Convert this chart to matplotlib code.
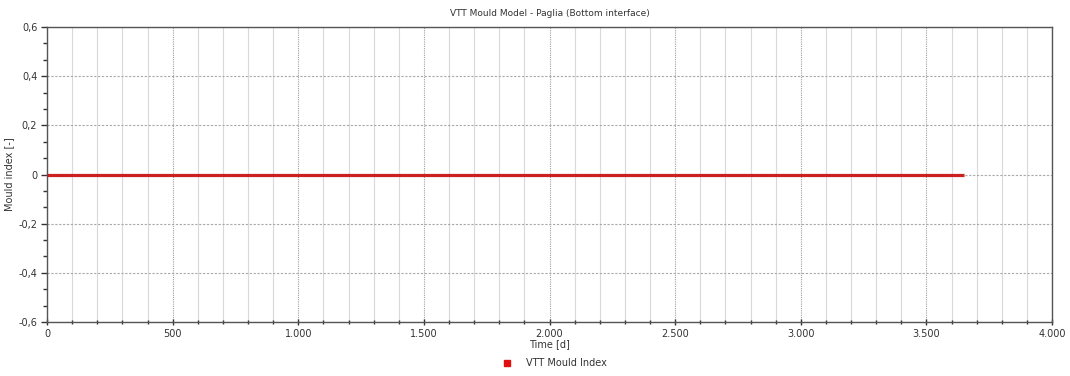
import matplotlib
matplotlib.use("Agg")
import matplotlib.pyplot as plt
from matplotlib.ticker import MultipleLocator, AutoMinorLocator
from matplotlib.lines import Line2D

# Simulation output: mould index at the bottom interface over ten years
time_days = [0, 3650]
mould_index = [0.0, 0.0]

x_ticks = [0, 500, 1000, 1500, 2000, 2500, 3000, 3500, 4000]
x_tick_labels = ["0", "500", "1.000", "1.500", "2.000", "2.500", "3.000", "3.500", "4.000"]
y_ticks = [-0.6, -0.4, -0.2, 0.0, 0.2, 0.4, 0.6]
y_tick_labels = ["-0,6", "-0,4", "-0,2", "0", "0,2", "0,4", "0,6"]

title = "VTT Mould Model - Paglia (Bottom interface)"
series_name = "VTT Mould Index"

plt.rcParams["font.family"] = ["DejaVu Sans"]
fig = plt.figure(figsize=(10.70, 3.76), dpi=100)
ax = fig.add_axes([47 / 1070, 1 - 322 / 376, (1052 - 47) / 1070, (322 - 27) / 376])

ax.set_xlim(0, 4000)
ax.set_ylim(-0.6, 0.6)

# minor vertical grid every 100 days, major every 500
ax.xaxis.set_minor_locator(MultipleLocator(100))
ax.yaxis.set_minor_locator(AutoMinorLocator(3))
ax.set_xticks(x_ticks)
ax.set_xticklabels(x_tick_labels)
ax.set_yticks(y_ticks)
ax.set_yticklabels(y_tick_labels)

ax.grid(which="minor", axis="x", color="#d9d9d9", linewidth=0.8, linestyle="-")
ax.grid(which="major", axis="x", color="#a0a0a0", linewidth=0.8, linestyle=(0, (1, 1)))
ax.grid(which="major", axis="y", color="#a8a8a8", linewidth=0.8, linestyle=(0, (2, 1.5)))
ax.set_axisbelow(True)

for side in ("top", "right", "left", "bottom"):
    ax.spines[side].set_color("#555555")
    ax.spines[side].set_linewidth(1.0)

ax.tick_params(axis="both", which="major", labelsize=7, colors="#333333", width=1)
ax.tick_params(axis="y", which="major", length=4, direction="out", pad=3)
ax.tick_params(axis="y", which="minor", length=3, width=1, color="#333333", direction="out")
ax.tick_params(axis="x", which="major", length=4, direction="inout", pad=3)
ax.tick_params(axis="x", which="minor", length=3, width=1, color="#333333", direction="inout")

ax.plot(time_days, mould_index, color="#cc1f1f", linewidth=2.3, solid_capstyle="butt", zorder=3)

ax.set_title(title, fontsize=6.5, color="#333333", pad=8)
ax.set_xlabel("Time [d]", fontsize=7, color="#333333", labelpad=0)
ax.set_ylabel("Mould index [-]", fontsize=7, color="#333333")
ax.yaxis.set_label_coords(-33 / (1052 - 47), 0.5)

handle = Line2D([], [], linestyle="none", marker="s", markersize=5,
                markerfacecolor="#e01010", markeredgecolor="#e01010")
fig.legend([handle], [series_name], loc="center", bbox_to_anchor=(552 / 1070, 1 - 363 / 376),
           frameon=False, fontsize=7, handletextpad=1.0, labelcolor="#333333")

fig.savefig("out.png", dpi=100, facecolor="white")
